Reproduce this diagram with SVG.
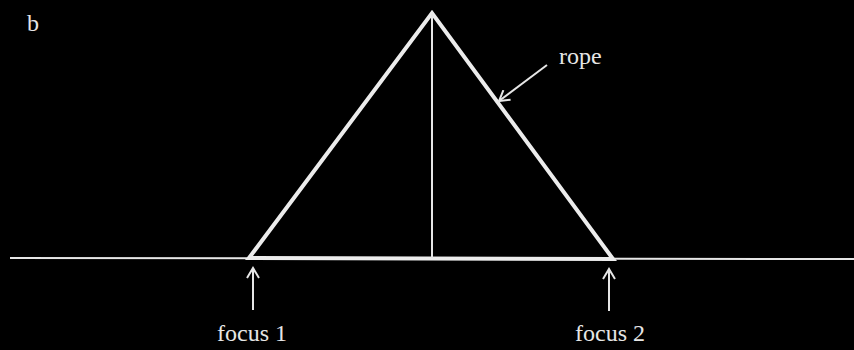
<svg xmlns="http://www.w3.org/2000/svg" width="854" height="350" viewBox="0 0 854 350">
<style>
.t{font-family:"Liberation Serif","Times New Roman",serif;font-size:24px;fill:#e6e6e6}
.thin{stroke:#e6e6e6;stroke-width:2;fill:none}
.thick{stroke:#ececec;stroke-width:4;fill:none;stroke-linejoin:miter}
</style>
<defs>
<marker id="ah" markerWidth="14" markerHeight="14" refX="11" refY="7" orient="auto" markerUnits="userSpaceOnUse">
<path d="M1,1 L11,7 L1,13" fill="none" stroke="#e6e6e6" stroke-width="2"/>
</marker>
</defs>
<rect width="854" height="350" fill="#000"/>
<g id="baseline"><line class="thin" x1="10" y1="258" x2="854" y2="259"/></g>
<g id="triangle">
<path class="thick" d="M249,258 L432,13 L613,259 Z"/>
<line class="thin" x1="432" y1="14" x2="432" y2="258"/>
</g>
<g id="labels">
<text class="t" x="27" y="31">b</text>
<text class="t" x="559" y="64">rope</text>
<text class="t" x="217" y="341">focus 1</text>
<text class="t" x="575" y="341">focus 2</text>
</g>
<g id="connectors">
<line class="thin" x1="547" y1="65" x2="499" y2="101" marker-end="url(#ah)"/>
<line class="thin" x1="253" y1="310" x2="253" y2="268" marker-end="url(#ah)"/>
<line class="thin" x1="609" y1="311" x2="609" y2="269" marker-end="url(#ah)"/>
</g>
</svg>
